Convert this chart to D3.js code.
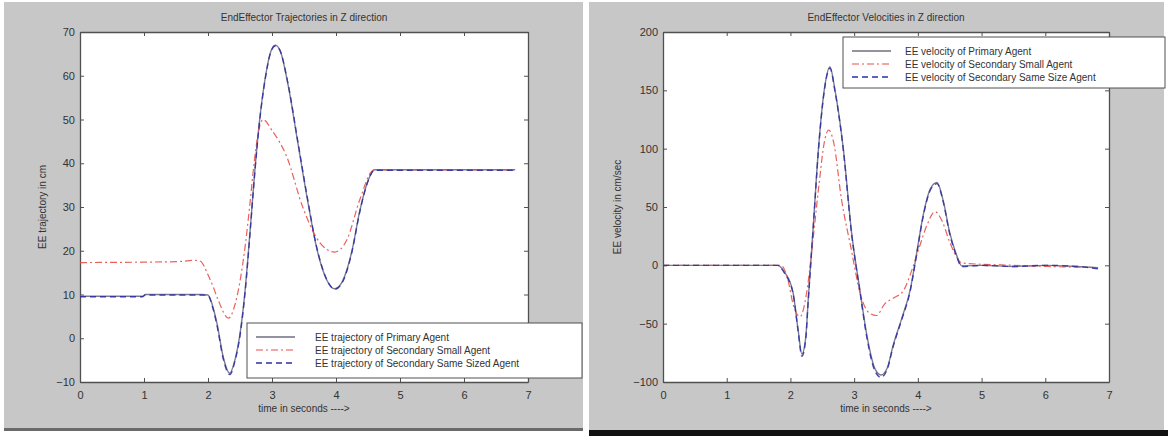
<!DOCTYPE html>
<html>
<head>
<meta charset="utf-8">
<script src="https://cdn.jsdelivr.net/npm/d3@7"></script>
<style>
  body { margin: 0; background: #ffffff; }
  svg { display: block; font-family: "Liberation Sans", Arial, sans-serif; }
</style>
</head>
<body>
<svg id="chart" width="1168" height="436"></svg>
<script>
// --- data ---
const xTicks = [0, 1, 2, 3, 4, 5, 6, 7];
const trajTicks = [-10, 0, 10, 20, 30, 40, 50, 60, 70];
const velTicks = [-100, -50, 0, 50, 100, 150, 200];

// Trajectories (cm)
const trajPrimaryT = [0, 0.98, 1.02, 1.9, 2.0, 2.07, 2.14, 2.24, 2.34, 2.42, 2.5, 2.58, 2.66, 2.73, 2.8, 2.9, 2.97, 3.05, 3.12, 3.25, 3.4, 3.55, 3.7, 3.85, 3.98, 4.1, 4.25, 4.37, 4.5, 4.6, 5.5, 6.8];
const trajPrimaryV = [9.6, 9.6, 10, 10, 9.9, 7.5, 3.4, -4.4, -8, -5, 1, 11, 25, 38, 49, 60, 65, 67, 66, 58, 45, 32, 20.5, 13.5, 11.3, 13, 20, 29, 36, 38.5, 38.5, 38.5];
const trajSmallT = [0, 1.5, 1.8, 1.88, 2.0, 2.08, 2.16, 2.32, 2.42, 2.5, 2.58, 2.65, 2.72, 2.8, 2.86, 3.0, 3.23, 3.48, 3.75, 3.98, 4.17, 4.37, 4.55, 4.6, 6.8];
const trajSmallV = [17.3, 17.5, 17.8, 17.6, 14.5, 11.8, 8.7, 4.6, 7.6, 13, 21, 30, 40, 48, 50, 47.5, 41.5, 30, 21.8, 19.7, 22.5, 31.6, 38, 38.5, 38.5];
const trajSameT = [0, 0.98, 1.02, 1.9, 2.0, 2.07, 2.14, 2.24, 2.34, 2.42, 2.5, 2.58, 2.66, 2.73, 2.8, 2.9, 2.97, 3.05, 3.12, 3.25, 3.4, 3.55, 3.7, 3.85, 3.98, 4.1, 4.25, 4.37, 4.5, 4.6, 5.5, 6.8];
const trajSameV = [9.5, 9.5, 9.9, 9.9, 9.8, 7.2, 3.0, -4.8, -8.3, -5.3, 0.6, 10.6, 24.6, 37.6, 48.7, 59.8, 64.9, 66.8, 65.9, 58.2, 45.3, 32.3, 20.7, 13.6, 11.2, 12.8, 19.8, 28.8, 35.9, 38.4, 38.4, 38.4];

// Velocities (cm/sec)
const velPrimaryT = [0, 1.0, 1.8, 1.91, 2.04, 2.12, 2.18, 2.24, 2.28, 2.36, 2.44, 2.53, 2.62, 2.7, 2.83, 2.96, 3.09, 3.2, 3.33, 3.42, 3.52, 3.61, 3.75, 3.88, 3.98, 4.08, 4.2, 4.3, 4.4, 4.5, 4.6, 4.69, 5.0, 5.5, 6.0, 6.5, 6.83];
const velPrimaryV = [0, 0, 0, -6, -23, -55, -76, -62, -29, 35, 100, 150, 170, 150, 100, 28, -21, -60, -89, -94, -88, -69, -45, -21, 10, 42, 66, 71, 55, 28, 10, -0.5, 0, -1, 0, -1, -2];
const velSmallT = [0, 1.0, 1.85, 1.95, 2.05, 2.15, 2.25, 2.35, 2.45, 2.53, 2.6, 2.68, 2.8, 2.95, 3.09, 3.22, 3.35, 3.48, 3.62, 3.77, 3.9, 4.02, 4.14, 4.27, 4.38, 4.5, 4.6, 4.69, 5.5, 6.83];
const velSmallV = [0, 0, 0, -10, -35, -44, -25, 20, 70, 105, 116, 105, 57, 15, -23, -40, -43, -33, -28, -22, -5, 15, 34, 46, 38, 20, 8, 2, 0, -2];
const velSameT = [0, 1.0, 1.8, 1.91, 2.04, 2.12, 2.18, 2.24, 2.28, 2.36, 2.44, 2.53, 2.62, 2.7, 2.83, 2.96, 3.09, 3.2, 3.33, 3.42, 3.52, 3.61, 3.75, 3.88, 3.98, 4.08, 4.2, 4.3, 4.4, 4.5, 4.6, 4.69, 5.0, 5.5, 6.0, 6.5, 6.83];
const velSameV = [0, 0, 0, -7, -24, -56, -78, -63, -30, 34, 99, 149, 169, 149, 99, 27, -22, -62, -91, -96, -89, -70, -46, -22, 9, 41, 65, 70, 54, 27, 9, -1, 0, -1, 0, -1, -3];

const trajLegend = ["EE trajectory of Primary Agent", "EE trajectory of Secondary Small Agent", "EE trajectory of Secondary Same Sized Agent"];
const velLegend = ["EE velocity of Primary Agent", "EE velocity of Secondary Small Agent", "EE velocity of Secondary Same Size Agent"];

const styles = [
    { color: "#6e6e82", dash: null, width: 1.4 },
    { color: "#e8504a", dash: "7,3,2,3", width: 1.2 },
    { color: "#2d31a6", dash: "6,4", width: 1.4 }
];

const svg = d3.select("#chart");

function zip(ts, vs) {
    return ts.map((t, i) => ({ t: t, v: vs[i] }));
}

function drawPanel(opts) {
    const g = svg.append("g");

    // figure background
    g.append("rect")
        .attr("x", opts.bg[0]).attr("y", opts.bg[1])
        .attr("width", opts.bg[2]).attr("height", opts.bg[3])
        .attr("fill", "#c7c7c7");

    const x = d3.scaleLinear().domain([0, 7]).range([opts.plot[0], opts.plot[2]]);
    const y = d3.scaleLinear().domain(opts.yDomain).range([opts.plot[3], opts.plot[1]]);

    // plot area
    g.append("rect")
        .attr("x", x(0)).attr("y", y(opts.yDomain[1]))
        .attr("width", x(7) - x(0)).attr("height", y(opts.yDomain[0]) - y(opts.yDomain[1]))
        .attr("fill", "#ffffff");

    // axes (MATLAB style: ticks inside, on all sides)
    const bottom = g.append("g")
        .attr("transform", `translate(0,${y(opts.yDomain[0])})`)
        .call(d3.axisBottom(x).tickValues(xTicks).tickFormat(d3.format("d")).tickSizeInner(-4).tickSizeOuter(0).tickPadding(9));
    const top = g.append("g")
        .attr("transform", `translate(0,${y(opts.yDomain[1])})`)
        .call(d3.axisTop(x).tickValues(xTicks).tickSizeInner(-4).tickSizeOuter(0).tickFormat(""));
    const left = g.append("g")
        .attr("transform", `translate(${x(0)},0)`)
        .call(d3.axisLeft(y).tickValues(opts.yTicks).tickFormat(d3.format("d")).tickSizeInner(-4).tickSizeOuter(0).tickPadding(5));
    const right = g.append("g")
        .attr("transform", `translate(${x(7)},0)`)
        .call(d3.axisRight(y).tickValues(opts.yTicks).tickSizeInner(-4).tickSizeOuter(0).tickFormat(""));

    [bottom, top, left, right].forEach(a => {
        a.select(".domain").attr("stroke", "#505050").attr("stroke-width", 1.3);
        a.selectAll(".tick line").attr("stroke", "#505050");
        a.selectAll(".tick text").attr("fill", "#333").style("font-size", "11px");
    });

    const line = d3.line()
        .x(d => x(d.t))
        .y(d => y(d.v))
        .curve(d3.curveMonotoneX);

    opts.series.forEach((s, i) => {
        const st = styles[i];
        g.append("path")
            .datum(s)
            .attr("fill", "none")
            .attr("stroke", st.color)
            .attr("stroke-width", st.width)
            .attr("stroke-dasharray", st.dash)
            .attr("stroke-opacity", 0.9)
            .attr("d", line);
    });

    // title and labels
    const cx = (x(0) + x(7)) / 2;
    g.append("text")
        .attr("x", cx).attr("y", 21)
        .attr("text-anchor", "middle")
        .attr("fill", "#333").style("font-size", "10px")
        .text(opts.title);
    g.append("text")
        .attr("x", cx).attr("y", 412)
        .attr("text-anchor", "middle")
        .attr("fill", "#333").style("font-size", "10px")
        .text("time in seconds ---->");
    g.append("text")
        .attr("transform", `translate(${opts.yLabelX},${y((opts.yDomain[0] + opts.yDomain[1]) / 2)}) rotate(-90)`)
        .attr("text-anchor", "middle")
        .attr("fill", "#333").style("font-size", "10px")
        .text(opts.yLabel);

    // legend
    const lg = g.append("g").attr("transform", `translate(${opts.legend[0]},${opts.legend[1]})`);
    lg.append("rect")
        .attr("width", opts.legend[2]).attr("height", opts.legend[3])
        .attr("fill", "#ffffff")
        .attr("stroke", "#505050").attr("stroke-width", 1);
    opts.legendText.forEach((txt, i) => {
        const ry = 14 + i * 13;
        lg.append("line")
            .attr("x1", 9).attr("x2", 48)
            .attr("y1", ry).attr("y2", ry)
            .attr("stroke", styles[i].color)
            .attr("stroke-width", styles[i].width)
            .attr("stroke-dasharray", styles[i].dash);
        lg.append("text")
            .attr("x", opts.legendTextX).attr("y", ry + 3.5)
            .attr("fill", "#333").style("font-size", "10px")
            .text(txt);
    });
}

drawPanel({
    bg: [4, 2, 579, 428],
    plot: [80, 32, 528, 382],
    yDomain: [-10, 70],
    yTicks: trajTicks,
    title: "EndEffector Trajectories in Z direction",
    yLabel: "EE trajectory in cm",
    yLabelX: 46,
    legend: [247, 323, 335, 55],
    legendText: trajLegend,
    legendTextX: 68,
    series: [zip(trajPrimaryT, trajPrimaryV), zip(trajSmallT, trajSmallV), zip(trajSameT, trajSameV)]
});

drawPanel({
    bg: [589, 2, 575, 428],
    plot: [663, 32, 1109, 382],
    yDomain: [-100, 200],
    yTicks: velTicks,
    title: "EndEffector Velocities in Z direction",
    yLabel: "EE velocity in cm/sec",
    yLabelX: 621,
    legend: [843, 37, 322, 51],
    legendText: velLegend,
    legendTextX: 62,
    series: [zip(velPrimaryT, velPrimaryV), zip(velSmallT, velSmallV), zip(velSameT, velSameV)]
});

// panel frame strips
svg.append("rect").attr("x", 4).attr("y", 428).attr("width", 579).attr("height", 3).attr("fill", "#6a6a6a");
svg.append("rect").attr("x", 589).attr("y", 430).attr("width", 579).attr("height", 6).attr("fill", "#111");
</script>
</body>
</html>
